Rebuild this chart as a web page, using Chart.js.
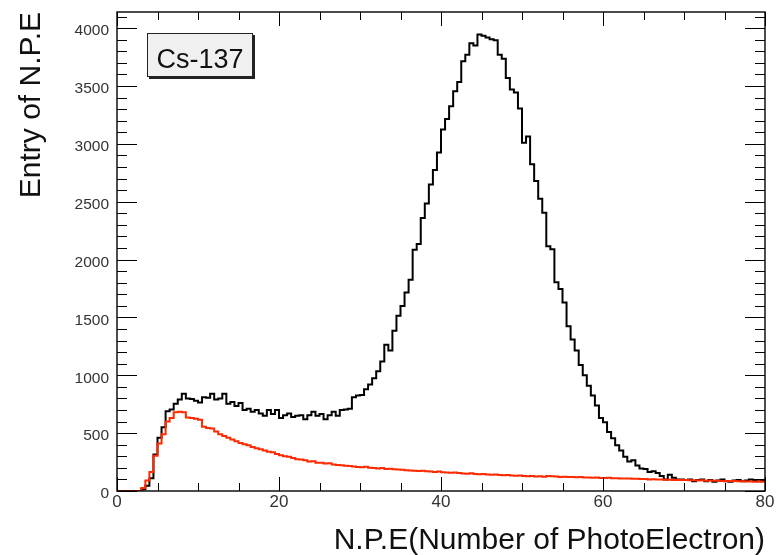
<!DOCTYPE html>
<html>
<head>
<meta charset="utf-8">
<title>Cs-137 N.P.E</title>
<script src="https://cdn.jsdelivr.net/npm/chart.js@4.4.1/dist/chart.umd.min.js"></script>
<style>
  html,body{margin:0;padding:0;background:#fff}
  #wrap{width:782px;height:555px}
</style>
</head>
<body>
<div id="wrap"><canvas id="npe" width="782" height="555"></canvas></div>
<script>
// histogram binning (N.P.E, 0.5 wide bins)
const BIN_WIDTH = 0.5;
const X_MIN = 0, X_MAX = 80;
const Y_MIN = 0, Y_MAX = 4140;
const X_MAJOR = 20, X_MINOR = 5;
const Y_MAJOR = 500, Y_MINOR = 100;

const xTickLabels = [0, 20, 40, 60, 80];
const yTickLabels = [0, 500, 1000, 1500, 2000, 2500, 3000, 3500, 4000];
const boxLabel = 'Cs-137';

// black spectrum, entries per bin starting at N.P.E = 0
const npeBlack = [
  0, 0, 0, 0, 0, 0,
  15, 45, 110, 315, 460, 550, 690, 705, 755, 790,
  840, 800, 795, 780, 765, 810, 805, 840, 790, 800,
  840, 755, 770, 735, 760, 700, 710, 685, 700, 670,
  650, 700, 665, 700, 630, 655, 670, 640, 650, 655,
  620, 655, 685, 650, 665, 620, 655, 685, 650, 700,
  705, 710, 810, 825, 830, 880, 920, 975, 1035, 1120,
  1265, 1215, 1385, 1515, 1600, 1715, 1825, 2085, 2135, 2360,
  2485, 2650, 2775, 2925, 3125, 3215, 3325, 3455, 3535, 3715,
  3770, 3870, 3850, 3945, 3935, 3920, 3905, 3895, 3770, 3735,
  3570, 3470, 3445, 3305, 3010, 3065, 2825, 2680, 2525, 2405,
  2115, 2090, 1805, 1745, 1630, 1425, 1310, 1215, 1090, 1000,
  910, 825, 740, 630, 595, 510, 455, 395, 350, 295,
  255, 265, 220, 195, 190, 165, 170, 155, 130, 100,
  140, 115, 100, 100, 95, 100, 85, 95, 100, 85,
  95, 80, 90, 100, 85, 80, 90, 95, 85, 90,
  100, 95, 85, 90
];

// red spectrum, same binning
const npeRed = [
  0, 0, 0, 0, 0, 0,
  25, 90, 165, 305, 410, 490, 600, 630, 680, 685,
  680, 635, 630, 625, 615, 555, 545, 540, 515, 490,
  475, 460, 445, 430, 415, 405, 395, 380, 370, 360,
  350, 340, 335, 320, 310, 300, 295, 285, 275, 272,
  265, 255, 258, 245, 245, 238, 240, 230, 225, 222,
  218, 215, 212, 208, 205, 210, 200, 198, 195, 198,
  190, 192, 188, 185, 183, 180, 178, 175, 172, 175,
  170, 168, 165, 168, 162, 160, 158, 160, 155, 152,
  150, 153, 148, 145, 147, 143, 140, 142, 138, 136,
  138, 134, 132, 135, 130, 128, 130, 126, 127, 124,
  130, 128, 125, 122, 123, 120, 121, 118, 120, 116,
  117, 115, 116, 113, 112, 114, 110, 111, 108, 107,
  108, 105, 106, 103, 104, 100, 102, 99, 100, 97,
  98, 95, 97, 94, 95, 92, 93, 91, 92, 89,
  90, 88, 89, 86, 87, 85, 86, 84, 84, 82,
  83, 81, 82, 80
];

const FONT = "'Liberation Sans', Arial, Helvetica, sans-serif";

// bin low edges + closing edge so the last step is drawn
const toSteps = (vals)=>{
  const pts = vals.map((v,i)=>({x: X_MIN + i*BIN_WIDTH, y: v}));
  pts.push({x: X_MIN + vals.length*BIN_WIDTH, y: vals[vals.length-1]});
  return pts;
};

// ROOT-like frame, inward ticks on all four sides, label box
const rootFrame = {
  id: 'rootFrame',
  afterDraw(chart){
    const ctx = chart.ctx;
    const {left, right, top, bottom} = chart.chartArea;
    const xs = chart.scales.x, ys = chart.scales.y;
    const line = (x1,y1,x2,y2)=>{ ctx.beginPath(); ctx.moveTo(x1,y1); ctx.lineTo(x2,y2); ctx.stroke(); };
    ctx.save();
    ctx.strokeStyle = '#000';
    ctx.lineWidth = 1.4;
    ctx.strokeRect(left, top, right-left, bottom-top);
    ctx.lineWidth = 1;
    for (let v = X_MIN; v <= X_MAX; v += X_MINOR){
      const px = Math.round(xs.getPixelForValue(v)) + .5;
      const len = v % X_MAJOR === 0 ? 14 : 8;
      line(px, bottom, px, bottom-len);
      line(px, top, px, top+len);
    }
    for (let v = Y_MIN; v <= Y_MAX; v += Y_MINOR){
      const py = Math.round(ys.getPixelForValue(v)) + .5;
      const len = v % Y_MAJOR === 0 ? 20 : 10;
      line(left, py, left+len, py);
      line(right, py, right-len, py);
    }
    // label box with shadow
    const bx = left + 30, by = top + 21, bw = 106, bh = 44;
    ctx.fillStyle = '#222';
    ctx.fillRect(bx+2, by+2, bw, bh);
    ctx.fillStyle = '#f0f0f0';
    ctx.fillRect(bx, by, bw, bh);
    ctx.strokeStyle = '#222';
    ctx.strokeRect(bx+.5, by+.5, bw-1, bh-1);
    ctx.fillStyle = '#111';
    ctx.font = '27px ' + FONT;
    ctx.textAlign = 'center';
    ctx.textBaseline = 'alphabetic';
    ctx.fillText(boxLabel, bx + bw/2, by + 35);
    ctx.restore();
  }
};

new Chart(document.getElementById('npe'), {
  type: 'line',
  data: {
    datasets: [
      { label: 'red', data: toSteps(npeRed), borderColor: '#ff2a00', borderWidth: 2,
        stepped: 'before', pointRadius: 0, fill: false, order: 0 },
      { label: 'black', data: toSteps(npeBlack), borderColor: '#000', borderWidth: 2,
        stepped: 'before', pointRadius: 0, fill: false, order: 1 }
    ]
  },
  options: {
    responsive: false, animation: false, devicePixelRatio: 1,
    layout: { padding: { top: 12, right: 17, left: 0, bottom: 0 } },
    plugins: { legend: { display: false }, tooltip: { enabled: false } },
    scales: {
      x: {
        type: 'linear', min: X_MIN, max: X_MAX,
        grid: { display: false, drawTicks: false }, border: { display: false },
        afterBuildTicks: (s)=>{ s.ticks = xTickLabels.map(v=>({value: v})); },
        ticks: { autoSkip: false, maxRotation: 0, padding: 1, color: '#333',
                 font: { family: FONT, size: 17 }, callback: (v)=>String(v) },
        title: { display: true, text: 'N.P.E(Number of PhotoElectron)', align: 'end', color: '#111',
                 font: { family: FONT, size: 30 }, padding: { top: 0, bottom: -4 } },
        afterFit: (s)=>{ s.height = 64; s.paddingLeft = 0; s.paddingRight = 0; }
      },
      y: {
        type: 'linear', min: Y_MIN, max: Y_MAX,
        grid: { display: false, drawTicks: false }, border: { display: false },
        afterBuildTicks: (s)=>{ s.ticks = yTickLabels.map(v=>({value: v})); },
        ticks: { autoSkip: false, padding: 8, labelOffset: 3, color: '#333',
                 font: { family: FONT, size: 15.5 }, callback: (v)=>String(v) },
        title: { display: true, text: 'Entry of N.P.E', align: 'end', color: '#111',
                 font: { family: FONT, size: 30 }, padding: { top: 14, bottom: 0 } },
        afterFit: (s)=>{ s.width = 117; s.paddingTop = 0; s.paddingBottom = 0; }
      }
    }
  },
  plugins: [rootFrame]
});
</script>
</body>
</html>
